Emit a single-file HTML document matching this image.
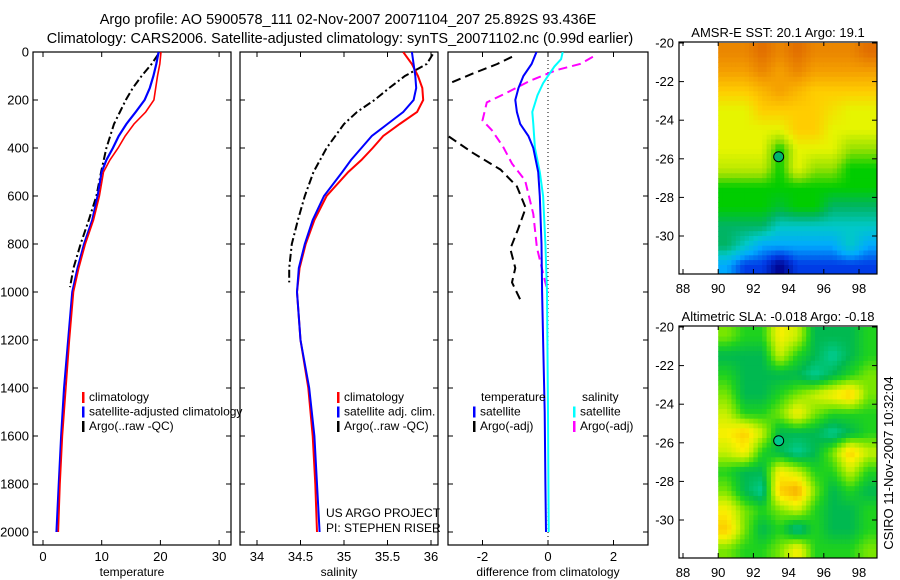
<!DOCTYPE html>
<html><head><meta charset="utf-8">
<style>
html,body{margin:0;padding:0;background:#fff;}
svg{display:block;font-family:"Liberation Sans",sans-serif;}
text{font-size:12px;fill:#000;}
</style></head>
<body>
<svg id="fig" width="900" height="580" viewBox="0 0 900 580" xmlns="http://www.w3.org/2000/svg">
<text x="348" y="24" text-anchor="middle" style="font-size:14.5px">Argo profile: AO 5900578_111 02-Nov-2007 20071104_207 25.892S 93.436E</text>
<text x="340" y="43" text-anchor="middle" style="font-size:14.5px">Climatology: CARS2006. Satellite-adjusted climatology: synTS_20071102.nc (0.99d earlier)</text>
<g id="root"></g>
</svg>
<script>
// ---- Temperature panel data ----
const tClimDepth=[0,50,100,150,200,250,300,350,400,450,500,600,700,800,900,1000,1200,1400,1600,1800,2000];
const tClimVal=[20.1,19.9,19.5,19.2,18.9,17.5,15.5,14,12.8,11.4,10.3,9.6,8.6,7.2,6.1,5.2,4.5,3.9,3.3,2.9,2.6];
const tSatVal=[19.7,19.3,18.8,18.2,17.3,15.8,14.2,12.9,11.9,10.8,10,9.3,8.4,7,5.9,5.0,4.3,3.6,3.1,2.7,2.3];
const tArgoDepth=[10,50,100,150,200,250,300,400,500,600,700,800,900,980];
const tArgoVal=[19.6,18.5,16.8,15.3,14.1,13.1,12.1,10.8,9.9,9.1,7.8,6.4,5.2,4.6];
// ---- Salinity panel data ----
const sClimVal=[35.68,35.78,35.85,35.9,35.91,35.84,35.64,35.45,35.33,35.2,35.05,34.8,34.66,34.56,34.49,34.46,34.5,34.59,34.64,34.67,34.69];
const sSatVal=[35.78,35.8,35.82,35.83,35.8,35.68,35.5,35.32,35.2,35.08,34.98,34.77,34.64,34.55,34.48,34.46,34.5,34.6,34.66,34.69,34.72];
const sArgoDepth=[10,50,100,150,200,250,300,400,500,600,700,800,900,960];
const sArgoVal=[36.02,35.95,35.7,35.52,35.35,35.15,35.0,34.8,34.65,34.55,34.47,34.4,34.37,34.37];
// ---- Difference panel data ----
const dTSatDepth=[0,50,100,150,200,250,300,350,400,500,600,800,1000,1200,1500,1800,2000];
const dTSatVal=[-0.35,-0.5,-0.75,-0.9,-1.0,-0.95,-0.85,-0.6,-0.45,-0.3,-0.25,-0.2,-0.18,-0.15,-0.1,-0.08,-0.06];
const dSSatDepth=[0,30,60,90,130,180,250,300,400,500,600,800,1000,1500,2000];
const dSSatVal=[0.45,0.4,0.2,0.05,-0.15,-0.32,-0.48,-0.45,-0.4,-0.25,-0.15,-0.08,-0.03,0.0,0.02];
const dTArgoDepth=[20,50,90,130,200,300,350,420,490,560,650,740,820,900,960,1045];
const dTArgoVal=[-1.1,-1.55,-2.3,-3.0,-3.6,-3.6,-3.05,-2.3,-1.45,-0.95,-0.68,-0.92,-1.15,-1.0,-1.1,-0.8];
const dSArgoDepth=[20,50,75,120,170,210,245,285,325,395,465,535,675,815,950,1000];
const dSArgoVal=[1.37,0.98,0.27,-0.55,-1.26,-1.87,-1.93,-2.0,-1.72,-1.37,-1.1,-0.7,-0.45,-0.34,-0.1,0.0];
// ---- Map data (rows lat -20..-31, cols lon 90..98, 1-degree cells) ----
const sstGrid=[
[9.5,9.5,10,9.5,10,9.5,9.5,9.5,10],
[9,9,9.5,9,9.5,9,9,9,9],
[8,8,8.5,9,8.5,8,8,8,8],
[7,7,8,8,8,8,7.5,7,7],
[7,7,7,7,8,8,7,7,7],
[7,7,7,5,7,7,7,6,6],
[6.5,6.5,6.5,5,7,6,6,5,5],
[5,5,5,5,5,5,5,5,5],
[5,5,5,4.5,5,5,4,4,4],
[4,4,4,3,3,3,3,3,3],
[4,3,2,2,2,2,2,3,2],
[2,1,1,0,1,1,1,1,1]];
const slaGrid=[
[3,2,2,5,4,1,1,1,2],
[1,1,1,4,2,1,0,1,2],
[2,1,1,1,1,0,1,2,3],
[3,1,1,2,3,4,5,6,3],
[4,2,2,3,5,3,2,2,2],
[5,6,4,1,1,1,0,1,2],
[4,5,2,1,0,1,3,6,4],
[2,1,1,5,4,2,2,4,2],
[3,1,0,6,7,3,1,2,1],
[5,3,2,3,4,2,1,1,2],
[6,3,1,2,0,2,1,1,2],
[3,2,2,3,5,2,2,2,3]];
const sstTitle="AMSR-E SST: 20.1 Argo: 19.1";
const slaTitle="Altimetric SLA: -0.018 Argo: -0.18";
const floatLon=93.436, floatLat=-25.892;
const depthTicks=[0,200,400,600,800,1000,1200,1400,1600,1800,2000];
const tTicks=[0,10,20,30];
const sTicks=[34,34.5,35,35.5,36];
const dTicks=[-2,0,2];
const lonTicks=[88,90,92,94,96,98];
const latTicks=[-20,-22,-24,-26,-28,-30];

const NS="http://www.w3.org/2000/svg";
const root=document.getElementById('root');
function mk(tag,attrs,parent){const e=document.createElementNS(NS,tag);for(const k in attrs)e.setAttribute(k,attrs[k]);(parent||root).appendChild(e);return e;}
const yD=d=>52+0.24*d;

function panel(name,x0,x1,xf,ticks,fmt,xlabel,showY){
  const g=mk('g',{});
  
  
  const cid='clip-'+name;
  const cp=mk('clipPath',{id:cid},g);mk('rect',{x:x0,y:52,width:x1-x0,height:493},cp);
  const fr=mk('rect',{x:x0,y:52,width:x1-x0,height:493,fill:'none',stroke:'#000','stroke-width':1.2},g);
  
  
  ticks.forEach(t=>{const x=xf(t);
    mk('line',{x1:x,x2:x,y1:545,y2:540,stroke:'#000'},g);
    mk('line',{x1:x,x2:x,y1:52,y2:57,stroke:'#000'},g);
    const tx=mk('text',{x:x,y:561,'text-anchor':'middle',style:'font-size:13px'},g);tx.textContent=fmt(t);
    
    
  });
  depthTicks.forEach(d=>{const y=yD(d);
    mk('line',{x1:x0,x2:x0+5,y1:y,y2:y,stroke:'#000'},g);
    mk('line',{x1:x1,x2:x1-5,y1:y,y2:y,stroke:'#000'},g);
    if(showY){const tx=mk('text',{x:x0-4,y:y+4.5,'text-anchor':'end',style:'font-size:13px'},g);tx.textContent=d;
      
      }
  });
  const xl=mk('text',{x:(x0+x1)/2,y:576,'text-anchor':'middle'},g);xl.textContent=xlabel;
  
  
  return {g,cid};
}
function line(p,name,xs,ds,xf,color,w,dash){
  const pts=xs.map((v,i)=>xf(v).toFixed(1)+','+yD(ds[i]).toFixed(1)).join(' ');
  const l=mk('polyline',{points:pts,fill:'none',stroke:color,'stroke-width':w,'clip-path':'url(#'+p.cid+')'},p.g);
  if(dash)l.setAttribute('stroke-dasharray',dash);
  
  
}
function legend(p,x,y,items){
  items.forEach((it,i)=>{const yy=y+i*14.5;
    const m=mk('rect',{x:x,y:yy-9,width:2.5,height:11,fill:it[1]},p.g);
    
    
    const t=mk('text',{x:x+7,y:yy},p.g);t.textContent=it[0];
    
    
  });
}
// Temperature
const xT=t=>43+5.87*t;
const pT=panel('temperature-panel',33,231,xT,tTicks,v=>v,'temperature',true);
line(pT,'argo-temperature-line',tArgoVal,tArgoDepth,xT,'#000',2,'8,3,2,3');
line(pT,'satellite-temperature-line',tSatVal,tClimDepth,xT,'#0000ff',2.2);
line(pT,'climatology-temperature-line',tClimVal,tClimDepth,xT,'#ff0000',1.6);
legend(pT,82,401,[['climatology','#ff0000'],['satellite-adjusted climatology','#0000ff'],['Argo(..raw -QC)','#000']]);
// Salinity
const xS=s=>257+87*(s-34);
const pS=panel('salinity-panel',240,438,xS,sTicks,v=>v,'salinity',false);
line(pS,'argo-salinity-line',sArgoVal,sArgoDepth,xS,'#000',2,'8,3,2,3');
line(pS,'climatology-salinity-line',sClimVal,tClimDepth,xS,'#ff0000',2);
line(pS,'satellite-salinity-line',sSatVal,tClimDepth,xS,'#0000ff',2);
legend(pS,337,401,[['climatology','#ff0000'],['satellite adj. clim.','#0000ff'],['Argo(..raw -QC)','#000']]);
[['US ARGO PROJECT',517],['PI: STEPHEN RISER',532]].forEach(a=>{const t=mk('text',{x:326,y:a[1]},pS.g);t.textContent=a[0];
  
  });
// Difference
const xDf=d=>548+32.75*d;
const pD=panel('difference-panel',448,648,xDf,dTicks,v=>v,'difference from climatology',false);
const zl=mk('line',{x1:xDf(0),x2:xDf(0),y1:52,y2:545,stroke:'#000','stroke-dasharray':'1,3'},pD.g);


line(pD,'argo-temperature-difference-line',dTArgoVal,dTArgoDepth,xDf,'#000',2,'9,5');
line(pD,'argo-salinity-difference-line',dSArgoVal,dSArgoDepth,xDf,'#ff00ff',2,'9,5');
line(pD,'satellite-salinity-difference-line',dSSatVal,dSSatDepth,xDf,'#00ffff',2);
line(pD,'satellite-temperature-difference-line',dTSatVal,dTSatDepth,xDf,'#0000ff',2);
const lh=mk('text',{x:481,y:401},pD.g);lh.textContent='temperature';

const lh2=mk('text',{x:582,y:401},pD.g);lh2.textContent='salinity';

legend(pD,473,415.5,[['satellite','#0000ff'],['Argo(-adj)','#000']]);
legend(pD,573,415.5,[['satellite','#00ffff'],['Argo(-adj)','#ff00ff']]);

// Maps
const sstPal=[[0,0,140],[0,60,230],[0,170,255],[0,200,200],[0,180,100],[0,205,0],[150,225,0],[230,245,0],[255,205,0],[245,160,0],[225,110,0]];
const slaPal=[[0,205,150],[0,185,80],[30,210,30],[120,230,0],[200,240,0],[250,240,0],[252,205,0],[245,170,0]];
function pal(p,v){v=Math.max(0,Math.min(p.length-1,v));const i=Math.min(p.length-2,Math.floor(v)),f=v-i;
  const c=p[i].map((a,k)=>Math.round(a+(p[i+1][k]-a)*f));return 'rgb('+c.join(',')+')';}
function mapPanel(name,grid,palette,top,title,markColor){
  const g=mk('g',{});
  
  
  const X=lon=>683+17.6*(lon-88), Y=lat=>top+19.3*(-20-lat);
  const cid='clip-'+name;
  const cp=mk('clipPath',{id:cid},g);mk('rect',{x:679,y:top-1,width:198,height:232},cp);
  const cg=mk('g',{'clip-path':'url(#'+cid+')'},g);
  const R=grid.length,C=grid[0].length,sub=4;
  const val=(r,c)=>grid[Math.max(0,Math.min(R-1,r))][Math.max(0,Math.min(C-1,c))];
  for(let i=0;i<R*sub;i++)for(let j=0;j<C*sub;j++){
    const fr=(i+0.5)/sub-0.5, fc=(j+0.5)/sub-0.5;
    const r0=Math.floor(fr),c0=Math.floor(fc),a=fr-r0,b=fc-c0;
    const v=val(r0,c0)*(1-a)*(1-b)+val(r0,c0+1)*(1-a)*b+val(r0+1,c0)*a*(1-b)+val(r0+1,c0+1)*a*b;
    const x=X(90+j/sub),y=Y(-20-i/sub);
    const cell=mk('rect',{x:x.toFixed(1),y:y.toFixed(1),width:(17.6/sub+0.6).toFixed(1),height:(19.3/sub+0.6).toFixed(1),fill:pal(palette,v)},cg);
    
    
  }
  const fr=mk('rect',{x:679,y:top-1,width:198,height:232,fill:'none',stroke:'#000','stroke-width':1.2},g);
  
  lonTicks.forEach(l=>{const x=X(l);mk('line',{x1:x,x2:x,y1:top+231,y2:top+226,stroke:'#000'},g);mk('line',{x1:x,x2:x,y1:top-1,y2:top+3,stroke:'#000'},g);
    const t=mk('text',{x:x,y:top+250,'text-anchor':'middle',style:'font-size:13px'},g);t.textContent=l;
    });
  latTicks.forEach(l=>{const y=Y(l);mk('line',{x1:679,x2:684,y1:y,y2:y,stroke:'#000'},g);mk('line',{x1:877,x2:872,y1:y,y2:y,stroke:'#000'},g);
    const t=mk('text',{x:674,y:y+4.5,'text-anchor':'end',style:'font-size:13px'},g);t.textContent=l;
    });
  const tt=mk('text',{x:778,y:top-6,'text-anchor':'middle',style:'font-size:13px'},g);tt.textContent=title;
  
  const m=mk('circle',{cx:X(floatLon),cy:Y(floatLat),r:5,fill:markColor,stroke:'#000','stroke-width':1},g);
  
}
mapPanel('sst-map',sstGrid,sstPal,43,sstTitle,'rgb(0,180,110)');
mapPanel('sla-map',slaGrid,slaPal,327,slaTitle,'rgb(0,200,140)');
const cr=mk('text',{x:0,y:0,transform:'translate(893,463) rotate(-90)','text-anchor':'middle',style:'font-size:13px'});
cr.textContent='CSIRO 11-Nov-2007 10:32:04';


</script>
</body></html>
